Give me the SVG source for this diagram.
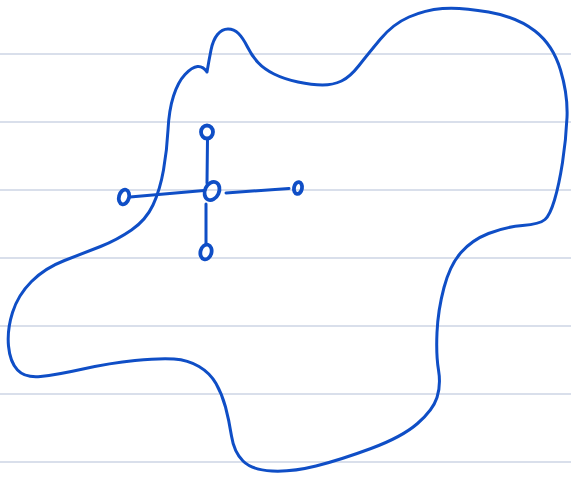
<svg xmlns="http://www.w3.org/2000/svg" width="571" height="477" viewBox="0 0 571 477">
<style>
.rule{stroke:#cdd4e4;stroke-width:1.6}
.ink{fill:none;stroke:#0f4ec6;stroke-width:3;stroke-linecap:round;stroke-linejoin:round}
.node{fill:none;stroke:#0f4ec6;stroke-width:3.8}
</style>
<rect width="571" height="477" fill="#ffffff"/>
<g id="paper">
<line class="rule" x1="0" y1="54" x2="571" y2="54"/>
<line class="rule" x1="0" y1="122" x2="571" y2="122"/>
<line class="rule" x1="0" y1="190" x2="571" y2="190"/>
<line class="rule" x1="0" y1="258" x2="571" y2="258"/>
<line class="rule" x1="0" y1="326" x2="571" y2="326"/>
<line class="rule" x1="0" y1="394" x2="571" y2="394"/>
<line class="rule" x1="0" y1="462" x2="571" y2="462"/>
</g>
<g id="blob">
<path class="ink" d="M207,72 Q209,60 211,50 Q213,40 217.5,34.5 Q222,29 228,29 Q234,29 238.5,33.5 Q243,38 247.5,47 Q252,56 258,62.5 Q264,69 274,74 Q284,79 298,82 Q312,85 322.5,85 Q333,85 341.5,81 Q350,77 359,65.5 Q368,54 380.5,39 Q393,24 409,17 Q425,10 442.5,8.5 Q460,7 488.5,12 Q517,17 535,31 Q553,45 560.5,70 Q568,95 567,117.5 Q566,140 562.5,162.5 Q559,185 554.5,200 Q550,215 545,219.5 Q540,224 522.5,225.5 Q505,227 488.5,233.5 Q472,240 461,252.5 Q450,265 444,287.5 Q438,310 437,332.5 Q436,355 438.5,370 Q441,385 437,397.5 Q433,410 417.5,423.5 Q402,437 371,448.5 Q340,460 316,466 Q292,472 272,471 Q252,470 243,461 Q234,452 231.5,436 Q229,420 225.5,407 Q222,394 216,383.5 Q210,373 199,366.5 Q188,360 174,359 Q160,358 135,360.5 Q110,363 83,369 Q56,375 40.5,376.5 Q25,378 17.5,370 Q10,362 8.5,346 Q7,330 12.5,312.5 Q18,295 31.5,281.5 Q45,268 64.5,260.5 Q84,253 100.5,246.5 Q117,240 131.5,230 Q146,220 153,205 Q160,190 163.5,170 Q167,150 168,130 Q169,110 173.5,96 Q178,82 185,74.5 Q192,67 197.5,66.5 Q203,66 207,72"/>
</g>
<g id="connectors">
<path class="ink" d="M207.5,139 L207,183"/>
<path class="ink" d="M206,204 L206,244"/>
<path class="ink" d="M130,197 L204,190.5"/>
<path class="ink" d="M226,193 L289,188.5"/>
</g>
<g id="node-center"><ellipse class="node" cx="212" cy="191" rx="7" ry="9.5" transform="rotate(25 212 191)"/></g>
<g id="node-top"><ellipse class="node" cx="207" cy="132" rx="6" ry="6.5"/></g>
<g id="node-bottom"><ellipse class="node" cx="206" cy="252" rx="5.5" ry="7.5" transform="rotate(15 206 252)"/></g>
<g id="node-left"><ellipse class="node" cx="124" cy="197" rx="5" ry="7.5" transform="rotate(15 124 197)"/></g>
<g id="node-right"><ellipse class="node" cx="298" cy="188" rx="4" ry="6" transform="rotate(10 298 188)"/></g>
</svg>
